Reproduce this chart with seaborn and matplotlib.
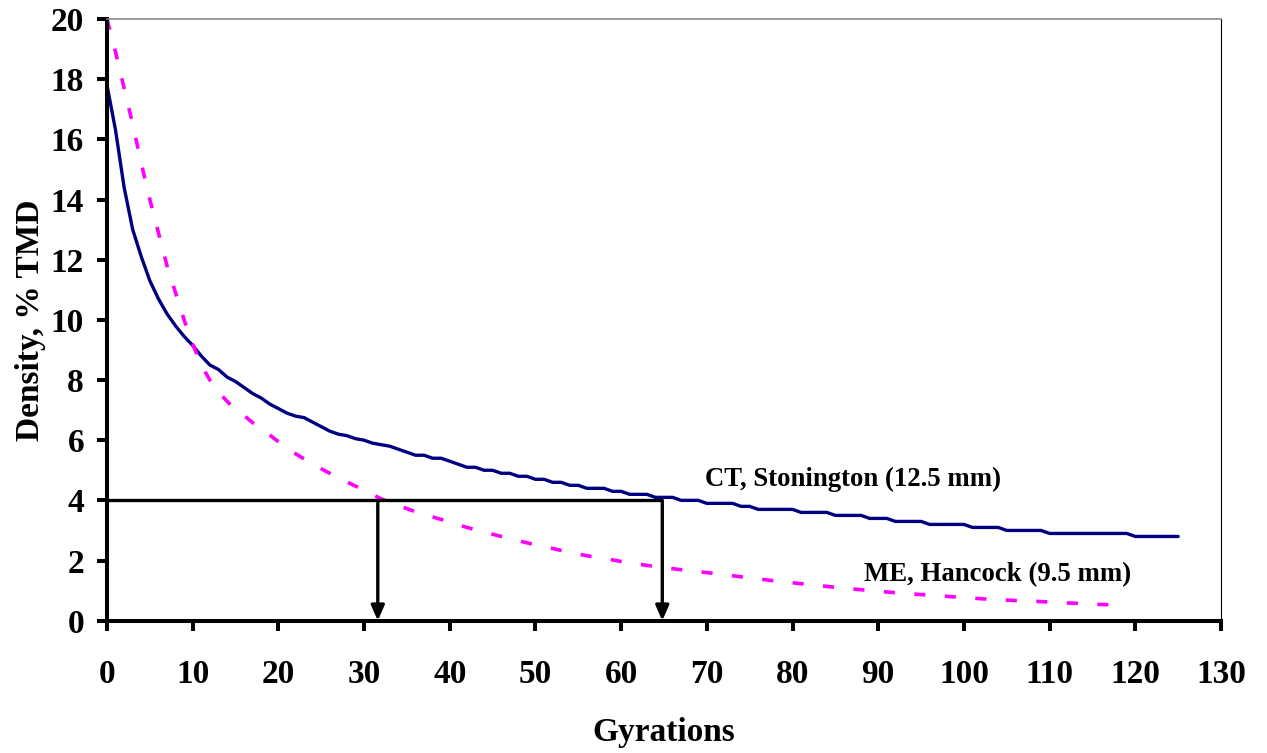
import numpy as np
import pandas as pd
import matplotlib
matplotlib.use("Agg")
import matplotlib.pyplot as plt
import seaborn as sns

# ---- data ----
ct_gyr = list(range(0, 126))
ct_val = [17.8, 16.3, 14.4, 13.0, 12.1, 11.3, 10.7, 10.2, 9.8, 9.45,
          9.15, 8.8, 8.5, 8.35, 8.1, 7.95, 7.75, 7.55, 7.4, 7.2,
          7.05, 6.9, 6.8, 6.75, 6.6, 6.45, 6.3, 6.2, 6.15, 6.05,
          6.0, 5.9, 5.85, 5.8, 5.7, 5.6, 5.5, 5.5, 5.4, 5.4,
          5.3, 5.2, 5.1, 5.1, 5.0, 5.0, 4.9, 4.9, 4.8, 4.8,
          4.7, 4.7, 4.6, 4.6, 4.5, 4.5, 4.4, 4.4, 4.4, 4.3,
          4.3, 4.2, 4.2, 4.2, 4.1, 4.1, 4.1, 4.0, 4.0, 4.0,
          3.9, 3.9, 3.9, 3.9, 3.8, 3.8, 3.7, 3.7, 3.7, 3.7,
          3.7, 3.6, 3.6, 3.6, 3.6, 3.5, 3.5, 3.5, 3.5, 3.4,
          3.4, 3.4, 3.3, 3.3, 3.3, 3.3, 3.2, 3.2, 3.2, 3.2,
          3.2, 3.1, 3.1, 3.1, 3.1, 3.0, 3.0, 3.0, 3.0, 3.0,
          2.9, 2.9, 2.9, 2.9, 2.9, 2.9, 2.9, 2.9, 2.9, 2.9,
          2.8, 2.8, 2.8, 2.8, 2.8, 2.8]

me_gyr = [0, 1, 2, 3, 4, 5, 6, 7, 8, 9, 10, 11, 12, 13, 14, 15, 16, 17, 18, 19,
          20, 22, 24, 26, 28, 30, 32, 34, 36, 38, 40, 42, 44, 46, 48, 50,
          52, 54, 56, 58, 60, 62, 64, 66, 68, 70, 72, 74, 76, 78, 80,
          82, 84, 86, 88, 90, 92, 94, 96, 98, 100, 102, 104, 106, 108, 110,
          112, 114, 116, 118, 119]
me_val = [20.0, 18.9, 17.7, 16.5, 15.2, 14.0, 12.9, 11.8, 10.9, 10.0, 9.2, 8.5, 8.0, 7.6, 7.3, 7.0, 6.82, 6.58, 6.38, 6.17,
          5.95, 5.55, 5.2, 4.9, 4.61, 4.34, 4.05, 3.83, 3.62, 3.45, 3.28, 3.1, 2.95, 2.8, 2.66, 2.52,
          2.4, 2.27, 2.16, 2.07, 1.97, 1.88, 1.8, 1.73, 1.66, 1.6, 1.53, 1.46, 1.39, 1.32, 1.26,
          1.2, 1.14, 1.08, 1.03, 0.98, 0.93, 0.89, 0.85, 0.81, 0.77, 0.73, 0.7, 0.67, 0.65, 0.62,
          0.59, 0.57, 0.54, 0.52, 0.51]

target_level = 4.0
arrow_gyr = [31.6, 64.8]

x_ticks = list(range(0, 131, 10))
y_ticks = list(range(0, 21, 2))

label_ct = "CT, Stonington (12.5 mm)"
label_me = "ME, Hancock (9.5 mm)"

# ---- style ----
sns.set_theme(style="white")
plt.rcParams['font.family'] = ['Liberation Serif', 'DejaVu Serif']
plt.rcParams['font.weight'] = 'bold'
plt.rcParams['lines.scale_dashes'] = False
for k in ['text.color', 'axes.labelcolor', 'xtick.color', 'ytick.color']:
    plt.rcParams[k] = 'black'

fig = plt.figure(figsize=(12.67, 7.53), dpi=100)
ax = fig.add_axes([107 / 1267, 1 - 620.7 / 753, 1114 / 1267, 601.7 / 753])

ct_df = pd.DataFrame({"Gyrations": ct_gyr, "Density": ct_val})
me_df = pd.DataFrame({"Gyrations": me_gyr, "Density": me_val})

sns.lineplot(data=ct_df, x="Gyrations", y="Density", ax=ax, color="#000080",
             linewidth=2.4, estimator=None, sort=False)
sns.lineplot(data=me_df, x="Gyrations", y="Density", ax=ax, color="#FF00FF",
             linewidth=2.6, estimator=None, sort=False)
me_line = ax.lines[-1]
me_line.set_linestyle((0, (8.0, 14.0)))
me_line.set_dash_capstyle("butt")

# reference lines / arrows
ax.plot([0, arrow_gyr[1]], [target_level, target_level], color="black",
        linewidth=2.4, solid_capstyle="butt", zorder=3)
for gx in arrow_gyr:
    ax.annotate("", xy=(gx, 0.0), xytext=(gx, target_level),
                arrowprops=dict(arrowstyle="-|>,head_length=0.5,head_width=0.22",
                                color="black", lw=2.4, shrinkA=0, shrinkB=0,
                                mutation_scale=18),
                zorder=4)

ax.text(69.8, 4.48, label_ct, fontsize=19.3, fontweight="bold", va="baseline", ha="left")
ax.text(88.3, 1.30, label_me, fontsize=19.3, fontweight="bold", va="baseline", ha="left")

ax.set_xlim(0, 130)
ax.set_ylim(0, 20)
ax.set_xticks(x_ticks)
ax.set_yticks(y_ticks)
ax.set_xticklabels([str(t) for t in x_ticks], fontsize=24, fontweight="bold")
ax.set_yticklabels([str(t) for t in y_ticks], fontsize=24, fontweight="bold")

ax.tick_params(axis="x", direction="out", length=7.5, width=2.9, color="black",
               pad=20, bottom=True)
ax.tick_params(axis="y", direction="out", length=7.5, width=2.9, color="black",
               pad=9, left=True)

for side in ["left", "bottom"]:
    ax.spines[side].set_linewidth(2.9)
    ax.spines[side].set_color("black")
ax.spines["top"].set_linewidth(1.1)
ax.spines["top"].set_color("#808080")
ax.spines["right"].set_linewidth(0.8)
ax.spines["right"].set_color("black")
ax.grid(False)

ax.set_xlabel("Gyrations", fontsize=24, fontweight="bold")
ax.set_ylabel("Density, % TMD", fontsize=24, fontweight="bold")
ax.xaxis.set_label_coords(0.5, -0.160)
ax.yaxis.set_label_coords(-0.055, 0.5)

fig.savefig("out.png", dpi=100, facecolor="white")
